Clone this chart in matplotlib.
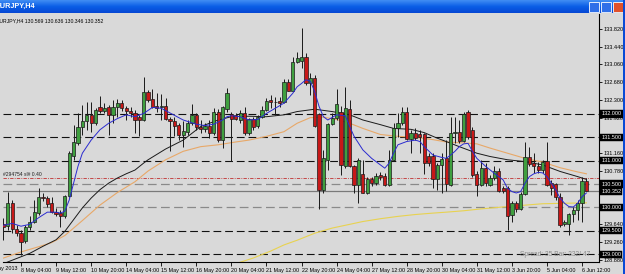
import numpy as np
import matplotlib.pyplot as plt
from matplotlib.patches import Rectangle

W, H = 625, 274
plt.rcParams['font.family'] = ['Liberation Sans', 'DejaVu Sans']

# bar index, 0 = 8 May 04:00 (H4 bars)
bars = list(range(-4, 130))
opens = [129.65, 129.60, 130.10, 129.55, 129.45, 129.28, 129.58, 129.70, 129.89, 130.23,
         130.20, 130.09, 129.91, 129.88, 129.81, 130.25, 131.09, 131.37, 131.73, 131.84,
         131.98, 131.81, 132.14, 132.07, 132.14, 131.98, 132.14, 132.23, 132.12, 132.07,
         132.01, 131.94, 131.87, 132.46, 132.32, 132.17, 132.14, 132.17, 131.90, 131.84,
         131.77, 131.55, 131.62, 131.80, 131.98, 131.73, 131.68, 131.74, 131.59, 132.03,
         131.44, 132.10, 132.00, 131.97, 131.87, 132.01, 131.60, 131.89, 131.74, 131.94,
         132.09, 132.30, 132.26, 132.28, 132.26, 132.69, 132.49, 133.10, 133.13, 133.22,
         132.65, 132.76, 131.99, 130.38, 131.02, 131.79, 131.91, 132.03, 130.88, 132.10,
         130.88, 130.48, 130.72, 130.32, 130.61, 130.53, 130.70, 130.68, 130.48, 131.02,
         131.69, 131.80, 132.03, 131.46, 131.59, 131.57, 131.57, 131.09, 131.10, 130.60,
         130.91, 131.05, 130.48, 131.59, 131.62, 131.43, 132.04, 131.66, 130.72, 130.48,
         130.84, 130.47, 130.63, 130.79, 130.41, 130.41, 129.84, 130.09, 129.96, 130.29,
         131.07, 130.95, 130.89, 130.80, 131.00, 130.52, 130.50, 130.22, 129.65, 129.65,
         129.86, 129.95, 130.09, 130.569]
highs = [129.77, 130.34, 130.16, 129.63, 129.52, 129.63, 129.81, 130.16, 130.41, 130.31,
         130.25, 130.23, 129.99, 129.95, 130.27, 131.20, 131.77, 132.01, 132.19, 132.26,
         132.26, 132.12, 132.38, 132.23, 132.19, 132.30, 132.31, 132.30, 132.17, 132.14,
         132.09, 131.98, 132.78, 132.51, 132.53, 132.44, 132.43, 132.33, 131.94, 131.94,
         131.80, 131.84, 131.87, 132.21, 132.01, 131.87, 131.80, 131.87, 132.12, 132.10,
         132.17, 132.55, 132.05, 132.01, 132.09, 132.14, 131.91, 131.94, 131.98, 132.17,
         132.33, 132.41, 132.37, 132.37, 132.74, 132.74, 133.21, 133.33, 133.83, 133.30,
         132.87, 132.83, 132.01, 131.23, 131.80, 132.01, 132.53, 132.17, 132.58, 132.30,
         130.91, 131.05, 131.02, 130.66, 130.66, 130.73, 130.75, 130.73, 131.23, 131.80,
         132.01, 132.14, 132.14, 131.66, 131.69, 131.66, 131.59, 131.16, 131.16, 130.95,
         131.16, 131.45, 131.94, 131.94, 131.87, 132.03, 132.08, 131.73, 130.77, 131.02,
         130.95, 130.70, 130.88, 130.84, 130.45, 130.45, 130.13, 130.13, 130.34, 131.39,
         131.30, 131.16, 130.98, 131.02, 131.41, 130.59, 130.53, 130.31, 129.74, 129.88,
         130.02, 130.16, 130.66, 130.636]
lows = [129.31, 129.52, 129.45, 129.38, 128.99, 129.24, 129.52, 129.67, 129.84, 130.13,
        130.02, 129.88, 129.81, 129.59, 129.77, 130.23, 131.02, 131.34, 131.55, 131.66,
        131.62, 131.77, 132.01, 132.01, 131.55, 131.80, 131.94, 132.07, 131.87, 131.94,
        131.59, 131.53, 131.84, 132.26, 132.12, 132.03, 131.87, 131.87, 131.20, 131.52,
        131.44, 131.30, 131.55, 131.77, 131.66, 131.59, 131.62, 131.48, 131.55, 131.41,
        131.27, 132.05, 131.00, 131.87, 131.80, 131.55, 131.55, 131.66, 131.69, 131.91,
        132.06, 132.12, 131.98, 132.14, 132.23, 132.48, 132.48, 133.08, 132.98, 132.62,
        132.41, 131.73, 129.96, 130.31, 130.80, 131.77, 131.87, 130.70, 130.84, 130.86,
        130.31, 130.09, 130.31, 130.29, 130.45, 130.48, 130.58, 130.45, 130.46, 130.99,
        131.50, 131.77, 131.44, 131.16, 131.44, 131.16, 130.72, 130.88, 130.41, 130.38,
        130.31, 130.35, 130.45, 131.37, 131.37, 131.41, 131.46, 130.66, 130.25, 130.45,
        130.45, 130.45, 130.59, 130.34, 130.31, 129.51, 129.70, 129.91, 129.94, 130.27,
        130.88, 130.73, 130.73, 130.73, 130.45, 130.27, 130.16, 129.59, 129.61, 129.42,
        129.70, 129.74, 129.70, 130.346]
closes = [129.58, 130.10, 129.54, 129.45, 129.27, 129.58, 129.70, 129.91, 130.23, 130.21,
          130.08, 129.91, 129.86, 129.81, 130.25, 131.16, 131.41, 131.72, 131.84, 131.98,
          131.81, 132.08, 132.07, 132.12, 131.98, 132.14, 132.24, 132.12, 132.07, 132.01,
          131.87, 131.87, 132.46, 132.30, 132.14, 132.12, 132.16, 131.89, 131.84, 131.74,
          131.55, 131.64, 131.80, 131.98, 131.73, 131.68, 131.74, 131.60, 132.03, 131.44,
          132.14, 132.45, 131.90, 131.90, 132.01, 131.59, 131.89, 131.73, 131.94, 132.09,
          132.28, 132.25, 132.25, 132.23, 132.69, 132.49, 133.10, 133.19, 133.22, 132.65,
          132.76, 131.74, 130.38, 131.05, 131.79, 131.91, 132.21, 130.91, 132.12, 130.88,
          130.48, 131.02, 130.32, 130.61, 130.53, 130.68, 130.65, 130.48, 131.02, 131.69,
          131.80, 132.03, 131.46, 131.59, 131.48, 131.50, 130.95, 130.96, 130.60, 130.91,
          131.03, 130.50, 131.59, 131.62, 131.43, 132.00, 131.50, 130.69, 130.48, 130.84,
          130.52, 130.63, 130.79, 130.36, 130.36, 129.81, 130.09, 129.96, 130.29, 131.07,
          130.93, 130.89, 130.80, 130.97, 130.47, 130.41, 130.22, 129.63, 129.69, 129.86,
          129.95, 130.09, 130.57, 130.352]

# moving averages, read at some bars
ma_fast_x = [-4, -2, 0, 2, 4, 6, 8, 9, 10, 11, 12, 13, 14, 16, 18, 20, 22, 24, 26, 28, 30, 32, 34, 37,
             40, 42, 44, 46, 47, 48, 50, 52, 54, 56, 58, 60, 62, 63, 64, 65, 66, 67, 68, 69, 70, 72,
             74, 75, 76, 78, 80, 82, 83, 84, 85, 86, 88, 90, 91, 92, 94, 96, 97, 98, 99, 100, 101,
             102, 103, 104, 106, 108, 110, 111, 112, 113, 114, 115, 116, 117, 118, 119, 120, 121,
             122, 123, 124, 125, 126, 127, 128, 129]
ma_fast_y = [129.62, 129.66, 129.60, 129.64, 129.78, 129.90, 129.90, 129.88, 129.92, 130.16, 130.52,
             130.88, 131.16, 131.44, 131.66, 131.80, 131.90, 131.98, 131.94, 132.01, 132.14, 132.12,
             132.02, 131.87, 131.78, 131.75, 131.78, 131.87, 131.94, 131.96, 131.94, 131.87, 131.88,
             132.01, 132.12, 132.23, 132.44, 132.58, 132.65, 132.73, 132.70, 132.48, 132.16, 131.94,
             131.87, 131.98, 131.96, 131.73, 131.52, 131.23, 131.05, 130.91, 130.84, 130.95, 131.16,
             131.34, 131.41, 131.44, 131.41, 131.30, 131.12, 131.07, 131.05, 131.12, 131.20, 131.30,
             131.36, 131.37, 131.20, 131.05, 130.88, 130.73, 130.59, 130.41, 130.34, 130.31, 130.34,
             130.52, 130.66, 130.72, 130.75, 130.74, 130.66, 130.52, 130.38, 130.20, 130.09, 130.02,
             130.01, 130.09, 130.23, 130.31]
ma_mid_x = [-4, 2, 5, 8, 10, 12, 14, 16, 18, 20, 22, 24, 26, 28, 29, 33, 37, 41, 45, 48, 52, 56, 60,
            63, 67, 71, 75, 78, 82, 85, 89, 92, 95, 97, 100, 104, 107, 111, 115, 119, 123, 127, 129]
ma_mid_y = [128.80, 129.02, 129.17, 129.31, 129.49, 129.74, 129.99, 130.20, 130.38, 130.52, 130.63,
            130.72, 130.80, 130.95, 131.02, 131.25, 131.44, 131.73, 131.87, 131.94, 131.95, 131.94,
            131.98, 132.05, 132.10, 132.05, 131.98, 131.87, 131.77, 131.69, 131.67, 131.60, 131.48,
            131.41, 131.30, 131.16, 131.09, 131.02, 130.98, 130.91, 130.77, 130.66, 130.60]
ma_slow_x = [-4, 0, 4, 7, 10, 14, 18, 22, 26, 29, 33, 37, 41, 45, 49, 52, 56, 60, 63, 66, 69, 72, 75,
             78, 82, 86, 90, 94, 97, 101, 104, 107, 111, 115, 119, 123, 127, 129]
ma_slow_y = [128.92, 129.05, 129.16, 129.25, 129.40, 129.72, 130.05, 130.32, 130.55, 130.78, 131.02,
             131.20, 131.30, 131.34, 131.40, 131.44, 131.52, 131.62, 131.80, 131.92, 131.93, 131.88,
             131.80, 131.69, 131.56, 131.52, 131.50, 131.45, 131.40, 131.38, 131.36, 131.27, 131.16,
             131.05, 130.97, 130.85, 130.76, 130.72]
ma_long_x = [49, 53, 57, 60, 63, 67, 71, 75, 78, 82, 86, 90, 94, 97, 101, 105, 111, 115, 119, 124, 129]
ma_long_y = [128.80, 128.92, 129.07, 129.20, 129.30, 129.45, 129.56, 129.64, 129.70, 129.76, 129.81,
             129.85, 129.88, 129.90, 129.93, 129.97, 130.02, 130.05, 130.08, 130.09, 130.10]

first_label = '7 May 2013'   # sits left of the first visible bar, mostly cut off
tick_bars = [0, 8, 16, 24, 32, 40, 48, 56, 64, 72, 80, 88, 96, 104, 112, 120, 128]
tick_labels = ['8 May 04:00', '9 May 12:00', '10 May 20:00', '14 May 04:00',
               '15 May 12:00', '16 May 20:00', '20 May 04:00', '21 May 12:00', '22 May 20:00',
               '24 May 04:00', '27 May 12:00', '28 May 20:00', '30 May 04:00', '31 May 12:00',
               '3 Jun 20:00', '5 Jun 04:00', '6 Jun 12:00']
price_ticks = [133.82, 133.44, 133.06, 132.68, 132.30, 131.92, 131.54, 131.16, 130.78, 130.40,
               130.02, 129.64, 129.26, 128.88]
hidden_ticks = [131.54, 130.40, 130.02]   # covered by the level boxes
black_levels = [132.0, 131.5, 131.0, 129.5, 129.0]
gray_levels = [130.5, 130.0]
sl_level = 130.62
bid = 130.352
box_levels = [132.0, 131.5, 131.0, 130.5, 130.352, 130.0, 129.5, 129.0]

bg = '#d9d9d9'
fig = plt.figure(figsize=(W / 100, H / 100), dpi=100)
fig.patch.set_facecolor(bg)

# chart area in pixels: x 3..599, y 14..262 ; bar i sits at x = 21 + 4.383 i
ax = fig.add_axes([3 / W, (H - 262) / H, 596 / W, 248 / H])
ax.set_facecolor(bg)

for lv in black_levels:
    ax.axhline(lv, color='#111111', lw=0.8, dashes=(7, 3.5), zorder=1)
for lv in gray_levels:
    ax.axhline(lv, color='#8a8a8a', lw=0.9, dashes=(7, 3.5), zorder=1)
ax.axhline(sl_level, color='#c03030', lw=0.6, dashes=(4, 1.5, 1, 1.5), zorder=1)
ax.axhline(bid, color='#7a7a7a', lw=0.9, zorder=1)

ax.plot(ma_long_x, ma_long_y, color='#e8d250', lw=0.8, zorder=2)
ax.plot(ma_slow_x, ma_slow_y, color='#e8a868', lw=0.8, zorder=2)
ax.plot(ma_mid_x, ma_mid_y, color='#1a1a1a', lw=0.7, zorder=2)

o = np.array(opens)
c = np.array(closes)
up = c >= o
x = np.array(bars)
ax.vlines(x, lows, highs, color='#1a1a1a', lw=0.7, zorder=3)
ax.bar(x[up], np.maximum(c[up] - o[up], 0.004), bottom=o[up], width=0.74,
       color='#3f9f3f', edgecolor='#1a1a1a', lw=0.5, zorder=4)
ax.bar(x[~up], o[~up] - c[~up], bottom=c[~up], width=0.74,
       color='#c81818', edgecolor='#1a1a1a', lw=0.5, zorder=4)

ax.plot(ma_fast_x, ma_fast_y, color='#2a2ad0', lw=0.7, zorder=5)

for s in ['left', 'top']:
    ax.spines[s].set_visible(False)
for s in ['right', 'bottom']:
    ax.spines[s].set_color('black')
    ax.spines[s].set_linewidth(0.8)

ax.set_xticks(tick_bars)
ax.set_xticklabels(tick_labels, ha='left', fontsize=3.85)
ax.tick_params(axis='x', length=3, width=0.6, pad=1, colors='black')
ax.yaxis.tick_right()
ax.set_yticks(price_ticks)
ax.set_yticklabels(['' if p in hidden_ticks else '%.3f' % p for p in price_ticks], fontsize=4.0)
ax.tick_params(axis='y', length=2, width=0.6, pad=1.5)
# limits after the ticks, set_ticks would widen them
ax.set_xlim((3 - 21) / 4.383, (599 - 21) / 4.383)
ax.set_ylim(128.835, 134.135)

fig.text(-11 / W, 1 - 268.5 / H, first_label, fontsize=3.85, va='center', ha='left')

for lv in box_levels:
    ax.text(1.004, lv, '%.3f' % lv, transform=ax.get_yaxis_transform(), fontsize=4.0,
            color='white', va='center', ha='left', clip_on=False, zorder=10,
            bbox=dict(boxstyle='square,pad=0.2', fc='black', ec='black', lw=0.3))

ax.text(0.0, sl_level + 0.03, '#294754 sl# 0.40', fontsize=3.6, color='#202020',
        transform=ax.get_yaxis_transform(), va='bottom', ha='left')
ax.text(0.985, 129.0, 'Spread: 35 Bar: 232/ 47', fontsize=4.8, color='#8a8a8a',
        transform=ax.get_yaxis_transform(), va='center', ha='right', zorder=6)
fig.text(-4 / W, 1 - 21 / H, 'EURJPY,H4 130.569 130.636 130.346 130.352', fontsize=3.7,
         color='black', va='center', ha='left')

# window title bar
tb = fig.add_axes([0, 1 - 13 / H, 1, 13 / H])
grad = np.linspace(0, 1, 20).reshape(-1, 1)
tb.imshow(grad, cmap=plt.matplotlib.colors.LinearSegmentedColormap.from_list(
    'xp', ['#3f8cf3', '#0a5ee6', '#0648d4']), aspect='auto', extent=[0, 1, 0, 1])
tb.set_axis_off()
tb.text(-4 / W, 0.5, 'EURJPY,H4', color='white', fontsize=5.2, fontweight='bold',
        va='center', ha='left', transform=tb.transAxes)
for bx, col in [(589, '#2f6fe8'), (601, '#2f6fe8'), (613, '#e0502a')]:
    fig.patches.append(Rectangle((bx / W, 1 - 12 / H), 10 / W, 10 / H, transform=fig.transFigure,
                                 fc=col, ec='white', lw=0.6))
fig.patches.append(Rectangle((622.5 / W, 0), 2.5 / W, 1, transform=fig.transFigure,
                             fc='#0a4ad6', ec='none'))

fig.savefig('out.png', dpi=100, facecolor=fig.get_facecolor())
